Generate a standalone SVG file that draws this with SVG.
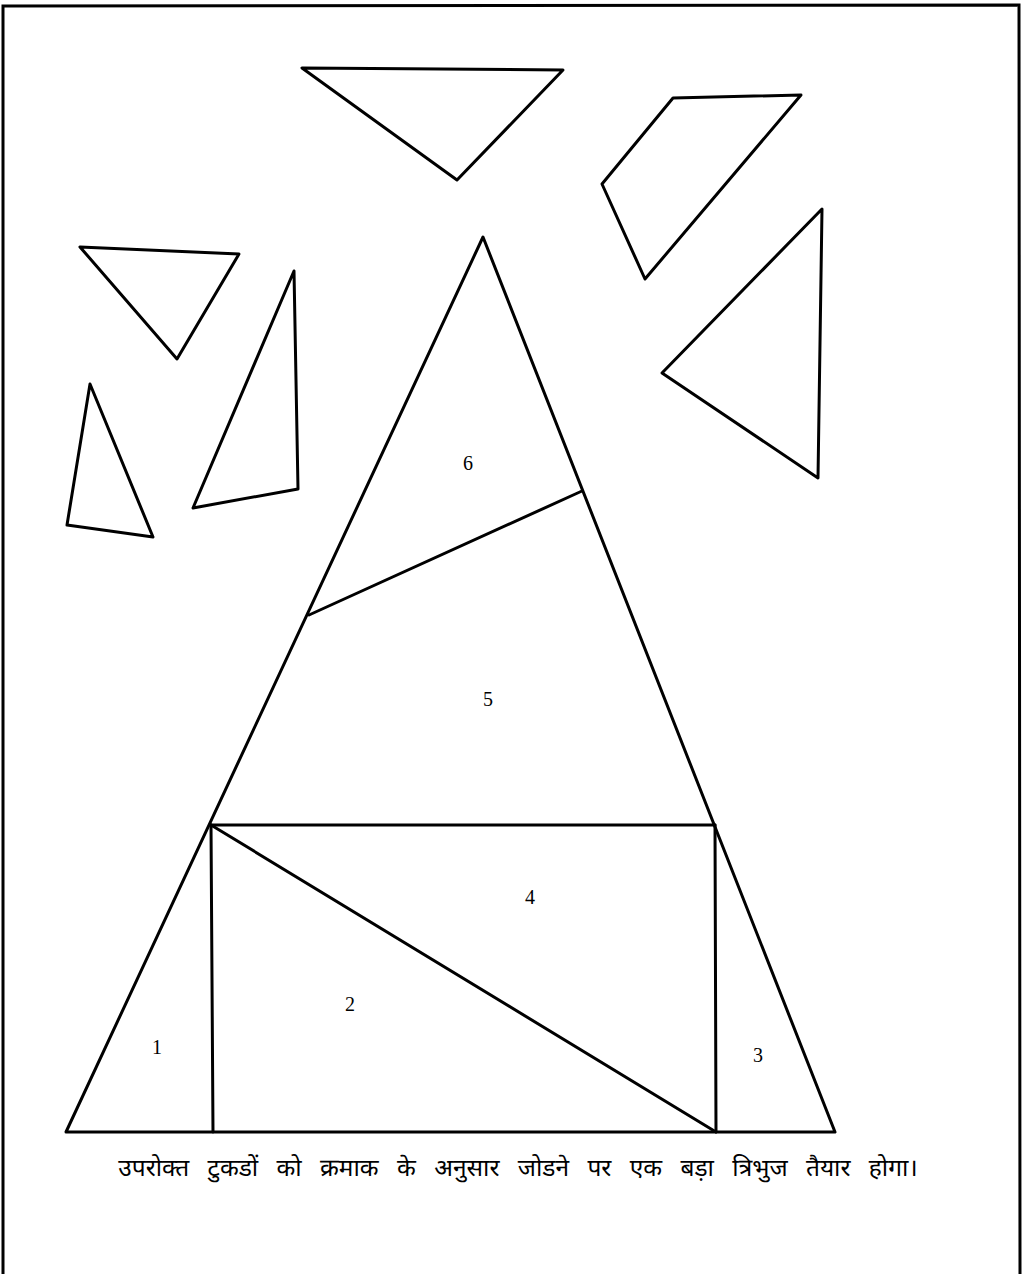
<svg xmlns="http://www.w3.org/2000/svg" width="1024" height="1274" viewBox="0 0 1024 1274">
<style>
.piece{fill:none;stroke:#000;stroke-width:3;stroke-linejoin:round;stroke-linecap:round}
.edge{fill:none;stroke:#000;stroke-width:3;stroke-linecap:round}
.num{font-family:"Liberation Serif","DejaVu Serif",serif;font-size:20px;fill:#000;text-anchor:middle}
.cap{font-family:"Noto Sans Devanagari","Noto Sans","Lohit Devanagari",sans-serif;font-size:24.5px;word-spacing:12px;fill:#000;text-anchor:middle}
</style>
<rect x="0" y="0" width="1024" height="1274" fill="#fff"/>
<g id="frame">
<path class="edge" d="M3,1274 L3,6 L1019,5 L1020,1274"/>
</g>
<g id="piece-top"><polygon class="piece" points="302,68 563,70 457,180"/></g>
<g id="piece-quad"><polygon class="piece" points="673,98 801,95 645,279 602,184"/></g>
<g id="piece-right"><polygon class="piece" points="822,209 818,478 662,373"/></g>
<g id="piece-left-top"><polygon class="piece" points="80,247 239,254 177,359"/></g>
<g id="piece-tall"><polygon class="piece" points="294,271 298,489 193,508"/></g>
<g id="piece-small"><polygon class="piece" points="90,384 67,525 153,537"/></g>
<g id="big-triangle">
<polygon class="piece" points="483,237 835,1132 66,1132"/>
</g>
<g id="connectors">
<line class="edge" x1="309" y1="615" x2="582" y2="491"/>
<line class="edge" x1="211" y1="825" x2="715" y2="825"/>
<line class="edge" x1="211" y1="825" x2="213" y2="1132"/>
<line class="edge" x1="715" y1="825" x2="716" y2="1132"/>
<line class="edge" x1="211" y1="825" x2="716" y2="1132"/>
</g>
<g id="labels">
<text class="num" x="468" y="470">6</text>
<text class="num" x="488" y="706">5</text>
<text class="num" x="530" y="904">4</text>
<text class="num" x="350" y="1011">2</text>
<text class="num" x="157" y="1054">1</text>
<text class="num" x="758" y="1062">3</text>
</g>
<g id="caption">
<text class="cap" x="518" y="1176">उपरोक्त टुकडों को क्रमाक के अनुसार जोडने पर एक बड़ा त्रिभुज तैयार होगा।</text>
</g>
</svg>
